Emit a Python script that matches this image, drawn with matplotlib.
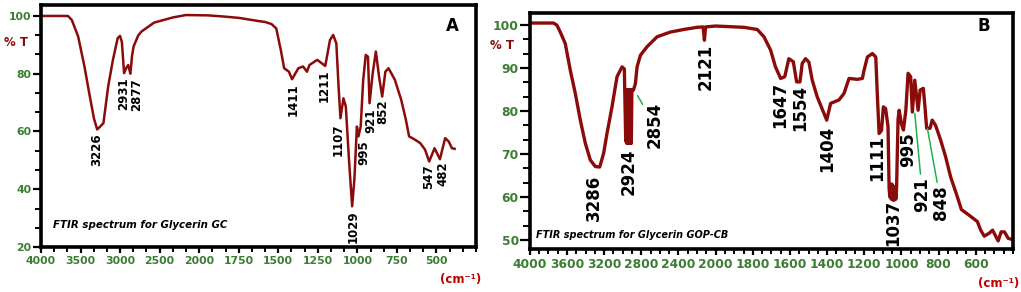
import numpy as np
import matplotlib
matplotlib.use('Agg')
import matplotlib.pyplot as plt

# spectrum A (Glycerin GC)
a_wn = [4000, 3700, 3660, 3611, 3531, 3451, 3391, 3331, 3290, 3260, 3211, 3151, 3091,
        3031, 3002, 2978, 2950, 2922, 2898, 2870, 2850, 2830, 2770, 2730, 2570, 2330,
        2170, 1945, 1845, 1745, 1645, 1583, 1543, 1513, 1484, 1463, 1433, 1413, 1373,
        1343, 1319, 1303, 1254, 1203, 1173, 1153, 1133, 1119, 1107, 1088, 1073, 1053,
        1033, 1019, 1003, 993, 979, 963, 947, 933, 923, 903, 883, 863, 843, 823, 803,
        763, 723, 693, 673, 643, 603, 572, 546, 512, 478, 445, 422, 402, 385]
a_t = [100, 100, 100, 98.6, 92.9, 82.5, 73.3, 64.5, 60.7, 61.5, 62.9, 75.6, 84.8,
       92.3, 93.1, 91, 80.2, 82, 83, 80, 86, 89.4, 93.3, 94.6, 97.7, 99.5,
       100.3, 100.2, 99.8, 99.3, 98.4, 97.9, 97.2, 95.7, 88.2, 81.9, 80.7, 78.1, 81.9,
       82.5, 80.7, 83, 84.8, 82.7, 91.7, 93.4, 90.5, 75.6, 64.6, 71.5, 68.6, 50.2,
       34.1, 43.3, 61.7, 58.3, 61.7, 77.9, 86.5, 85.9, 69.8, 80.2, 87.7, 79, 72.1, 80.7, 81.9,
       77.9, 71, 64, 58.3, 57.4, 56, 53.7, 49.6, 54.2, 50.4, 57.7, 56.5, 54.2, 54]
a_labels = ['3226', '2931', '2877', '1411', '1211', '1107', '1029', '995', '921', '852', '547', '482']
a_lab_x = [3291, 2962, 2790, 1407, 1207, 1119, 1027, 962, 913, 837, 552, 462]
a_lab_y = [59.4, 78.8, 78.4, 76.7, 81.3, 62.9, 32.7, 57.1, 68.1, 71.0, 48.5, 49.6]

# spectrum B (Glycerin GOP-CB)
b_wn = [4000, 3745, 3709, 3673, 3619, 3565, 3511, 3457, 3403, 3349, 3295, 3248, 3206,
        3170, 3116, 3062, 3008, 2983, 2968, 2962, 2956, 2950, 2944, 2938, 2932, 2926,
        2920, 2914, 2908, 2902, 2885, 2864, 2846, 2810, 2738, 2630, 2487, 2343, 2199,
        2135, 2121, 2108, 2000, 1848, 1776, 1740, 1704, 1678, 1650, 1628, 1606, 1582,
        1564, 1546, 1534, 1516, 1498, 1480, 1453, 1417, 1402, 1381, 1336, 1309, 1282,
        1237, 1210, 1201, 1183, 1156, 1138, 1129, 1120, 1107, 1097, 1085, 1072, 1066,
        1062, 1058, 1054, 1050, 1046, 1042, 1038, 1034, 1030, 1026, 1022, 1018, 1012,
        1000, 989, 976, 964, 950, 941, 928, 910, 899, 882, 873, 864, 846, 834, 816,
        789, 762, 735, 699, 677, 636, 591, 573, 554, 527, 509, 491, 479, 463, 445,
        425, 409, 400]
b_t = [100.5, 100.5, 100, 98.4, 95.7, 89.5, 84.1, 77.9, 72.5, 68.6, 67.1, 67, 70.2,
       74.8, 81, 88, 90.3, 89.8, 73, 85, 72.5, 85, 72.5, 85, 72.5, 85,
       72.5, 85, 72.5, 85, 84.9, 86.4, 90.3, 93, 95, 97.3, 98.4, 99, 99.5,
       99.6, 96.5, 99.6, 99.8, 99.5, 99, 97.3, 94.2, 90.3, 87.6, 88, 92.2, 91.5,
       86.8, 86.8, 91.1, 92.2, 91.4, 87.2, 83.3, 79.5, 77.9, 81.8, 82.6, 84.1, 87.6,
       87.4, 87.6, 89.5, 92.6, 93.4, 92.6, 83.3, 74.8, 75.5, 81, 80.6, 76.4, 62,
       60, 63, 59.5, 63, 59.3, 62.5, 59.3, 62, 59.5, 62, 70, 78, 80.2,
       77.1, 75.6, 80.2, 88.8, 88, 79.8, 87.2, 80.2, 84.9, 85.3, 81, 76, 76, 77.9, 76.7,
       73.3, 69.4, 64.7, 60.1, 57.1, 55.8, 54.3, 52.3, 50.9, 51.6, 52.3, 50.8, 49.8, 51.9, 51.9,
       50.4, 50.2, 50.2]
b_labels = ['3286', '2924', '2854', '2121', '1647', '1554', '1404', '1111', '1037', '995', '921', '848']
b_lab_x = [3306, 2936, 2660, 2109, 1654, 1546, 1399, 1132, 1043, 962, 887, 788]
b_lab_y = [65.1, 71.3, 82.2, 95.7, 86.8, 86.0, 76.7, 74.4, 59.3, 75.2, 64.7, 62.8]
# labels with green leader lines: label -> point on the curve
b_lead = {'2854': (2840, 83.6), '921': (928, 79.5), '848': (860, 76.0)}

LINE = '#8b0a0a'
GREEN = '#3b7d32'


def fwd(x):
    x = np.asarray(x, dtype=float)
    return np.where(x >= 2000, 2000 + (x - 2000) / 2.0, x)


def inv(u):
    u = np.asarray(u, dtype=float)
    return np.where(u >= 2000, 2000 + (u - 2000) * 2.0, u)


def setup(ax, xlim, ylim, xmaj, xminor, ymaj, yminor, fs, ylen):
    ax.set_xscale('function', functions=(fwd, inv))
    ax.set_xlim(*xlim)
    ax.set_ylim(*ylim)
    ax.set_xticks(xmaj)
    ax.set_xticklabels([str(v) for v in xmaj])
    ax.set_xticks(xminor, minor=True)
    ax.set_yticks(ymaj)
    ax.set_yticks(yminor, minor=True)
    for s in ax.spines.values():
        s.set_linewidth(2.6)
    ax.tick_params(which='both', colors='black', labelcolor=GREEN, labelsize=fs)
    ax.tick_params(axis='x', which='major', length=4.5, width=1.6, pad=2)
    ax.tick_params(axis='x', which='minor', length=3.5, width=1.4)
    ax.tick_params(axis='y', which='major', length=ylen, width=1.6, pad=1)
    ax.tick_params(axis='y', which='minor', length=ylen * 0.75, width=1.4)
    for t in ax.get_xticklabels() + ax.get_yticklabels():
        t.set_fontweight('bold')


fig = plt.figure(figsize=(10.21, 2.92), dpi=100)

# ---- panel A
axA = fig.add_axes([0.0402, 0.154, 0.426, 0.829])
axA.plot(a_wn, a_t, color=LINE, lw=1.8)
xmaj = [4000, 3500, 3000, 2500, 2000, 1750, 1500, 1250, 1000, 750, 500]
xmin = list(np.linspace(4000, 2000, 13)) + list(np.linspace(2000, 250, 22))
setup(axA, (4000, 385), (20, 103.8), xmaj, xmin,
      [20, 40, 60, 80, 100], np.arange(20, 104, 20 / 3), 7.8, 6)
for lab, x, y in zip(a_labels, a_lab_x, a_lab_y):
    axA.text(x, y, lab, rotation=90, ha='center', va='top', fontsize=8.5,
             fontweight='bold', color='black')
axA.text(0.945, 0.913, 'A', transform=axA.transAxes, ha='center', va='center',
         fontsize=12, fontweight='bold')
axA.text(0.027, 0.09, 'FTIR spectrum for Glycerin GC', transform=axA.transAxes,
         fontsize=7.4, fontweight='bold', style='italic', va='center')
fig.text(16 / 1021, 1 - 43 / 292, '% T', color=LINE, fontsize=8.5, fontweight='bold',
         ha='center', va='center')
fig.text(461 / 1021, 1 - 280 / 292, '(cm⁻¹)', color='#c00000', fontsize=8.5,
         fontweight='bold', ha='center', va='center')

# ---- panel B
axB = fig.add_axes([0.519, 0.147, 0.473, 0.808])
axB.plot(b_wn, b_t, color=LINE, lw=2.4)
xmaj = [4000, 3600, 3200, 2800, 2400, 2000, 1800, 1600, 1400, 1200, 1000, 800, 600]
xmin = list(np.arange(4000, 1999, -100)) + list(np.arange(2000, 399, -50))
setup(axB, (4000, 400), (47.9, 102.8), xmaj, xmin,
      [50, 60, 70, 80, 90, 100], np.arange(50, 103, 10 / 3), 8.8, 7)
for lab, x, y in zip(b_labels, b_lab_x, b_lab_y):
    if lab in b_lead:
        axB.annotate(lab, xy=b_lead[lab], xytext=(x, y), rotation=90, ha='center',
                     va='top', fontsize=12, fontweight='bold',
                     arrowprops=dict(arrowstyle='-', color='#22b04a', lw=1.1,
                                     shrinkA=0, shrinkB=0))
    else:
        axB.text(x, y, lab, rotation=90, ha='center', va='top', fontsize=12,
                 fontweight='bold', color='black')
axB.text(0.94, 0.945, 'B', transform=axB.transAxes, ha='center', va='center',
         fontsize=12, fontweight='bold')
axB.text(0.013, 0.06, 'FTIR spectrum for Glycerin GOP-CB', transform=axB.transAxes,
         fontsize=7, fontweight='bold', style='italic', va='center')
fig.text(502 / 1021, 1 - 45 / 292, '% T', color=LINE, fontsize=8.5, fontweight='bold',
         ha='center', va='center')
fig.text(999 / 1021, 1 - 283 / 292, '(cm⁻¹)', color='#c00000', fontsize=8.5,
         fontweight='bold', ha='center', va='center')

fig.savefig('out.png', dpi=100)
